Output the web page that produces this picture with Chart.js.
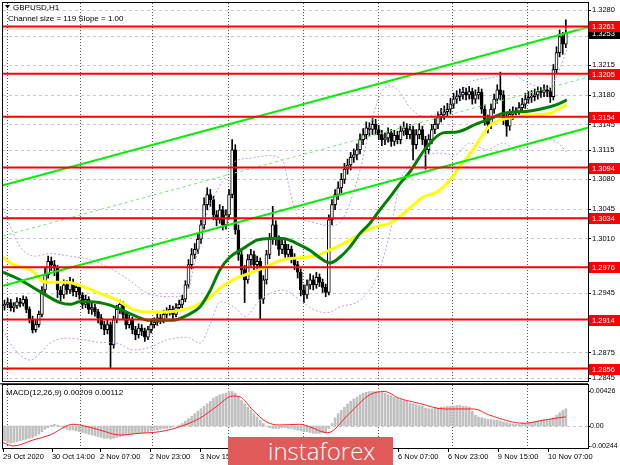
<!DOCTYPE html>
<html>
<head>
<meta charset="utf-8">
<title>GBPUSD H1</title>
<script src="https://cdn.jsdelivr.net/npm/chart.js@4.4.1/dist/chart.umd.min.js"></script>
<style>
  html, body { margin: 0; padding: 0; background: #fff; }
  #wrap { position: relative; width: 620px; height: 465px; overflow: hidden; }
  #main { position: absolute; left: 0; top: 0; }
  #macd { position: absolute; left: 0; top: 383px; }
  #logo { position: absolute; left: 228px; top: 437px; width: 165px; height: 28px; background: #e05a5a; overflow: hidden; }
  #logo span { position: absolute; left: 40px; top: -3px; color: #fff; font: 300 24px "Open Sans", sans-serif; }
</style>
</head>
<body>
<div id="wrap">
  <canvas id="main" width="620" height="383"></canvas>
  <canvas id="macd" width="620" height="82"></canvas>
  <div id="logo"><span>instaforex</span></div>
</div>
<script>
// GBPUSD H1 candles, bar index 0 = 29 Oct late evening
const opens = [
  1.2930, 1.2932, 1.2934, 1.2928, 1.2930, 1.2935, 1.2933, 1.2938, 1.2926, 1.2914,
  1.2902, 1.2908, 1.2920, 1.2949, 1.2967, 1.2983, 1.2979, 1.2975, 1.2949, 1.2943,
  1.2955, 1.2949, 1.2958, 1.2947, 1.2952, 1.2943, 1.2932, 1.2938, 1.2926, 1.2928,
  1.2923, 1.2916, 1.2908, 1.2902, 1.2908, 1.2884, 1.2914, 1.2926, 1.2932, 1.2920,
  1.2908, 1.2914, 1.2902, 1.2896, 1.2904, 1.2900, 1.2893, 1.2902, 1.2908, 1.2911,
  1.2916, 1.2914, 1.2920, 1.2923, 1.2926, 1.2920, 1.2928, 1.2932, 1.2938, 1.2955,
  1.2979, 1.2991, 1.2997, 1.3009, 1.3026, 1.3050, 1.3062, 1.3056, 1.3038, 1.3032,
  1.3044, 1.3026, 1.3038, 1.3062, 1.3115, 1.3020, 1.2991, 1.2973, 1.2961, 1.2985,
  1.2991, 1.2979, 1.2983, 1.2938, 1.2961, 1.2991, 1.3009, 1.3026, 1.3009, 1.2997,
  1.3003, 1.2991, 1.2997, 1.2987, 1.2979, 1.2970, 1.2949, 1.2943, 1.2955, 1.2961,
  1.2955, 1.2964, 1.2958, 1.2952, 1.2946, 1.3032, 1.3050, 1.3062, 1.3070, 1.3080,
  1.3092, 1.3097, 1.3106, 1.3109, 1.3115, 1.3127, 1.3133, 1.3141, 1.3139, 1.3145,
  1.3139, 1.3133, 1.3127, 1.3129, 1.3135, 1.3125, 1.3132, 1.3127, 1.3137, 1.3141,
  1.3133, 1.3139, 1.3121, 1.3133, 1.3139, 1.3127, 1.3115, 1.3127, 1.3139, 1.3145,
  1.3153, 1.3157, 1.3160, 1.3163, 1.3169, 1.3175, 1.3178, 1.3180, 1.3183, 1.3180,
  1.3184, 1.3175, 1.3180, 1.3183, 1.3163, 1.3151, 1.3145, 1.3163, 1.3175, 1.3186,
  1.3180, 1.3151, 1.3143, 1.3157, 1.3160, 1.3159, 1.3165, 1.3169, 1.3175, 1.3177,
  1.3178, 1.3180, 1.3184, 1.3183, 1.3186, 1.3184, 1.3178, 1.3210, 1.3230, 1.3249,
  1.3240
];
const highs = [
  1.2937, 1.2939, 1.2938, 1.2934, 1.2940, 1.2939, 1.2942, 1.2941, 1.2929, 1.2918,
  1.2913, 1.2924, 1.2953, 1.2975, 1.2989, 1.2988, 1.2984, 1.2978, 1.2953, 1.2961,
  1.2960, 1.2964, 1.2962, 1.2957, 1.2955, 1.2946, 1.2943, 1.2941, 1.2934, 1.2932,
  1.2926, 1.2920, 1.2912, 1.2913, 1.2911, 1.2918, 1.2931, 1.2937, 1.2935, 1.2923,
  1.2919, 1.2917, 1.2906, 1.2909, 1.2908, 1.2904, 1.2906, 1.2912, 1.2916, 1.2921,
  1.2920, 1.2925, 1.2928, 1.2931, 1.2930, 1.2933, 1.2937, 1.2943, 1.2960, 1.2985,
  1.2998, 1.3004, 1.3015, 1.3032, 1.3058, 1.3070, 1.3068, 1.3060, 1.3043, 1.3050,
  1.3048, 1.3044, 1.3068, 1.3127, 1.3121, 1.3026, 1.2997, 1.2978, 1.2991, 1.2997,
  1.2995, 1.2989, 1.2987, 1.2966, 1.2996, 1.3016, 1.3048, 1.3031, 1.3013, 1.3010,
  1.3008, 1.3003, 1.3001, 1.2992, 1.2983, 1.2974, 1.2955, 1.2961, 1.2968, 1.2966,
  1.2970, 1.2968, 1.2962, 1.2956, 1.3038, 1.3056, 1.3068, 1.3077, 1.3087, 1.3099,
  1.3104, 1.3112, 1.3116, 1.3122, 1.3134, 1.3140, 1.3148, 1.3147, 1.3152, 1.3151,
  1.3144, 1.3138, 1.3135, 1.3141, 1.3139, 1.3138, 1.3137, 1.3143, 1.3148, 1.3146,
  1.3145, 1.3143, 1.3139, 1.3146, 1.3143, 1.3131, 1.3133, 1.3145, 1.3152, 1.3160,
  1.3164, 1.3167, 1.3170, 1.3176, 1.3182, 1.3185, 1.3187, 1.3189, 1.3188, 1.3190,
  1.3188, 1.3186, 1.3189, 1.3187, 1.3168, 1.3156, 1.3169, 1.3181, 1.3192, 1.3207,
  1.3185, 1.3157, 1.3163, 1.3166, 1.3165, 1.3171, 1.3176, 1.3182, 1.3184, 1.3185,
  1.3187, 1.3190, 1.3189, 1.3192, 1.3191, 1.3188, 1.3216, 1.3237, 1.3257, 1.3254,
  1.3269
];
const lows = [
  1.2925, 1.2928, 1.2924, 1.2923, 1.2927, 1.2929, 1.2930, 1.2922, 1.2910, 1.2898,
  1.2899, 1.2905, 1.2917, 1.2945, 1.2963, 1.2972, 1.2966, 1.2940, 1.2936, 1.2939,
  1.2944, 1.2945, 1.2942, 1.2941, 1.2938, 1.2927, 1.2928, 1.2921, 1.2920, 1.2918,
  1.2910, 1.2903, 1.2896, 1.2897, 1.2857, 1.2880, 1.2910, 1.2921, 1.2915, 1.2903,
  1.2904, 1.2897, 1.2890, 1.2892, 1.2895, 1.2888, 1.2890, 1.2898, 1.2904, 1.2907,
  1.2909, 1.2910, 1.2916, 1.2919, 1.2915, 1.2917, 1.2924, 1.2928, 1.2935, 1.2951,
  1.2974, 1.2986, 1.2992, 1.3004, 1.3021, 1.3044, 1.3048, 1.3032, 1.3025, 1.3028,
  1.3020, 1.3021, 1.3033, 1.3058, 1.3015, 1.2984, 1.2966, 1.2934, 1.2957, 1.2978,
  1.2973, 1.2974, 1.2914, 1.2933, 1.2956, 1.2986, 1.3003, 1.3002, 1.2990, 1.2992,
  1.2985, 1.2986, 1.2981, 1.2973, 1.2963, 1.2942, 1.2934, 1.2939, 1.2950, 1.2949,
  1.2951, 1.2953, 1.2946, 1.2941, 1.2943, 1.3026, 1.3044, 1.3056, 1.3064, 1.3075,
  1.3086, 1.3091, 1.3100, 1.3103, 1.3110, 1.3121, 1.3128, 1.3132, 1.3133, 1.3133,
  1.3127, 1.3120, 1.3121, 1.3124, 1.3119, 1.3120, 1.3122, 1.3122, 1.3132, 1.3128,
  1.3128, 1.3103, 1.3116, 1.3128, 1.3121, 1.3092, 1.3110, 1.3122, 1.3134, 1.3140,
  1.3148, 1.3151, 1.3155, 1.3158, 1.3164, 1.3170, 1.3173, 1.3175, 1.3174, 1.3175,
  1.3169, 1.3170, 1.3175, 1.3158, 1.3144, 1.3135, 1.3140, 1.3158, 1.3170, 1.3174,
  1.3145, 1.3131, 1.3138, 1.3151, 1.3153, 1.3154, 1.3160, 1.3164, 1.3170, 1.3171,
  1.3173, 1.3175, 1.3177, 1.3178, 1.3178, 1.3171, 1.3174, 1.3205, 1.3225, 1.3228,
  1.3236
];
const closes = [
  1.2932, 1.2934, 1.2928, 1.2930, 1.2935, 1.2933, 1.2938, 1.2926, 1.2914, 1.2902,
  1.2908, 1.2920, 1.2949, 1.2967, 1.2983, 1.2979, 1.2975, 1.2949, 1.2943, 1.2955,
  1.2949, 1.2958, 1.2947, 1.2952, 1.2943, 1.2932, 1.2938, 1.2926, 1.2928, 1.2923,
  1.2916, 1.2908, 1.2902, 1.2908, 1.2884, 1.2914, 1.2926, 1.2932, 1.2920, 1.2908,
  1.2914, 1.2902, 1.2896, 1.2904, 1.2900, 1.2893, 1.2902, 1.2908, 1.2911, 1.2916,
  1.2914, 1.2920, 1.2923, 1.2926, 1.2920, 1.2928, 1.2932, 1.2938, 1.2955, 1.2979,
  1.2991, 1.2997, 1.3009, 1.3026, 1.3050, 1.3062, 1.3056, 1.3038, 1.3032, 1.3044,
  1.3026, 1.3038, 1.3062, 1.3115, 1.3020, 1.2991, 1.2973, 1.2961, 1.2985, 1.2991,
  1.2979, 1.2983, 1.2938, 1.2961, 1.2991, 1.3009, 1.3026, 1.3009, 1.2997, 1.3003,
  1.2991, 1.2997, 1.2987, 1.2979, 1.2970, 1.2949, 1.2943, 1.2955, 1.2961, 1.2955,
  1.2964, 1.2958, 1.2952, 1.2946, 1.3032, 1.3050, 1.3062, 1.3070, 1.3080, 1.3092,
  1.3097, 1.3106, 1.3109, 1.3115, 1.3127, 1.3133, 1.3141, 1.3139, 1.3145, 1.3139,
  1.3133, 1.3127, 1.3129, 1.3135, 1.3125, 1.3132, 1.3127, 1.3137, 1.3141, 1.3133,
  1.3139, 1.3121, 1.3133, 1.3139, 1.3127, 1.3115, 1.3127, 1.3139, 1.3145, 1.3153,
  1.3157, 1.3160, 1.3163, 1.3169, 1.3175, 1.3178, 1.3180, 1.3183, 1.3180, 1.3184,
  1.3175, 1.3180, 1.3183, 1.3163, 1.3151, 1.3145, 1.3163, 1.3175, 1.3186, 1.3180,
  1.3151, 1.3143, 1.3157, 1.3160, 1.3159, 1.3165, 1.3169, 1.3175, 1.3177, 1.3178,
  1.3180, 1.3184, 1.3183, 1.3186, 1.3184, 1.3178, 1.3210, 1.3230, 1.3249, 1.3240,
  1.3253
];

// support / resistance levels and axis ticks
const levels = [1.3261, 1.3205, 1.3154, 1.3094, 1.3034, 1.2976, 1.2914, 1.2856];
const priceTicks = [1.2845, 1.2875, 1.2945, 1.3010, 1.3045, 1.3080, 1.3115, 1.3145, 1.3180, 1.3215, 1.3250, 1.3280];
const timeTicks = [-0.45, 15.2, 30.6, 46.6, 62.7, 78.7, 94.4, 110.4, 126.2, 142.2, 158.2, 174.3];
const timeLabels = ['29 Oct 2020', '30 Oct 14:00', '2 Nov 07:00', '2 Nov 23:00', '3 Nov 15:00', '4 Nov 07:00',
  '4 Nov 23:00', '5 Nov 15:00', '6 Nov 07:00', '6 Nov 23:00', '9 Nov 15:00', '10 Nov 07:00'];
const daySeps = [0.8, 24.2, 47.3, 71.7, 95.7, 119.8, 143.5, 167.5];

// linear regression channel (ends)
const channelX = [-0.48, 187.1];
const channelUpper = [1.3073, 1.3260];
const channelMid = [1.3013, 1.3201];
const channelLower = [1.2954, 1.3141];

// moving averages
const slowX = [-0.48, 1.8, 9.1, 12.3, 15.5, 20, 25.2, 30.6, 36.1, 41.2, 46.6, 52.1, 56.3, 60.4, 62.7, 65.9, 69.1, 73.3, 78.7, 84.2,
  89.3, 94.7, 100.2, 105.3, 110.8, 116.2, 119.4, 123.6, 130, 134.2, 138.7, 142.8, 146, 150.2, 153.4, 155.7, 162.1, 168.5, 174.9, 178.1, 180.3];
const slowY = [1.2988, 1.2981, 1.2971, 1.2959, 1.2958, 1.2958, 1.2953, 1.2945, 1.2937, 1.2926, 1.2923, 1.2923, 1.2925, 1.2929, 1.2933, 1.2940, 1.2951, 1.2961, 1.2969, 1.2977,
  1.2985, 1.2987, 1.2990, 1.2998, 1.3008, 1.3020, 1.3024, 1.3028, 1.3046, 1.3059, 1.3065, 1.3079, 1.3095, 1.3115, 1.3133, 1.3144, 1.3153, 1.3156, 1.3158, 1.3164, 1.3168];
const fastX = [-0.48, 5, 11.4, 17.8, 21, 24.2, 27.4, 33.8, 40.2, 46.6, 54, 58.5, 62.7, 65.9, 69.1, 72.3, 76.5, 81, 85.1, 89.3, 93.8,
  97.9, 101.2, 104.4, 107.6, 110.8, 114, 117.2, 120.4, 123.6, 126.8, 130, 135.5, 140.6, 145.1, 151.5, 154.7, 159.8, 168.5, 174.9, 178.1, 180.3];
const fastY = [1.2970, 1.2961, 1.2947, 1.2934, 1.2932, 1.2935, 1.2935, 1.2931, 1.2921, 1.2913, 1.2913, 1.2919, 1.2929, 1.2948, 1.2973, 1.2988, 1.2998, 1.3008, 1.3010, 1.3010, 1.3004,
  1.2996, 1.2987, 1.2981, 1.2988, 1.3000, 1.3016, 1.3028, 1.3044, 1.3059, 1.3075, 1.3089, 1.3119, 1.3135, 1.3136, 1.3146, 1.3150, 1.3158, 1.3161, 1.3166, 1.3170, 1.3174];

// envelope bands (dotted violet)
const bandUpX = [-0.48, 2.4, 5, 9.8, 14.6, 21, 27.4, 33.8, 40.2, 46.6, 54.7, 58.5, 61.1, 64.3, 67.5, 70.7, 73.9, 78.7, 85.1, 89.3,
  91.5, 93.8, 97.9, 105.3, 109.2, 114, 117.8, 120.4, 123.6, 126.8, 130, 134.8, 139.6, 144.4, 149.2, 155.7, 162.1, 167.5, 173.3, 176.5, 180.3];
const bandUpY = [1.3046, 1.3020, 1.3000, 1.2989, 1.2992, 1.2989, 1.2985, 1.2975, 1.2960, 1.2944, 1.2941, 1.2947, 1.2982, 1.3032, 1.3062, 1.3082, 1.3101, 1.3105, 1.3108, 1.3101,
  1.3067, 1.3038, 1.3030, 1.3025, 1.3038, 1.3091, 1.3150, 1.3180, 1.3191, 1.3183, 1.3165, 1.3154, 1.3160, 1.3174, 1.3195, 1.3200, 1.3205, 1.3195, 1.3188, 1.3198, 1.3233];
const bandLowX = [-0.48, 1.8, 5, 8.2, 11.4, 14.6, 20, 25.2, 30.6, 36.1, 41.2, 46.6, 52.1, 58.5, 62.7, 65.9, 69.1, 73.9, 77.1, 81.9,
  89.3, 94.7, 99.6, 103.4, 107.6, 114, 119.4, 123.6, 126.8, 130, 134.8, 139.6, 144.4, 149.2, 154.7, 159.8, 164.3, 170.1, 174.9, 178.1, 180.3];
const bandLowY = [1.2902, 1.2886, 1.2872, 1.2866, 1.2874, 1.2886, 1.2892, 1.2890, 1.2887, 1.2886, 1.2878, 1.2881, 1.2890, 1.2893, 1.2886, 1.2908, 1.2935, 1.2928, 1.2918, 1.2937,
  1.2949, 1.2937, 1.2925, 1.2922, 1.2929, 1.2937, 1.2964, 1.3017, 1.3076, 1.3097, 1.3109, 1.3111, 1.3109, 1.3123, 1.3115, 1.3123, 1.3115, 1.3123, 1.3127, 1.3121, 1.3112];

// MACD(12,26,9)
const macdHist = [
  -0.0018, -0.0020, -0.0021, -0.0020, -0.0019, -0.0018, -0.0017, -0.0016, -0.0015, -0.0014,
  -0.0012, -0.0010, -0.0007, -0.0004, -0.0002, 0.0001, 0.0002, 0.0001, -0.0001, -0.0003,
  -0.0004, -0.0005, -0.0005, -0.0006, -0.0007, -0.0008, -0.0009, -0.0010, -0.0011, -0.0012,
  -0.0013, -0.0014, -0.0015, -0.0015, -0.0016, -0.0015, -0.0014, -0.0013, -0.0012, -0.0011,
  -0.0010, -0.0010, -0.0009, -0.0009, -0.0008, -0.0008, -0.0007, -0.0006, -0.0005, -0.0005,
  -0.0004, -0.0003, -0.0003, -0.0002, -0.0001, 0.0000, 0.0001, 0.0003, 0.0006, 0.0009,
  0.0012, 0.0015, 0.0018, 0.0021, 0.0024, 0.0027, 0.0030, 0.0034, 0.0036, 0.0038,
  0.0039, 0.0040, 0.0042, 0.0042, 0.0040, 0.0036, 0.0031, 0.0027, 0.0023, 0.0019,
  0.0015, 0.0011, 0.0007, 0.0003, 0.0000, -0.0002, -0.0003, -0.0003, -0.0003, -0.0002,
  -0.0002, -0.0003, -0.0003, -0.0004, -0.0005, -0.0006, -0.0007, -0.0007, -0.0008, -0.0009,
  -0.0009, -0.0009, -0.0008, -0.0008, -0.0003, 0.0003, 0.0010, 0.0015, 0.0019, 0.0023,
  0.0027, 0.0030, 0.0033, 0.0035, 0.0038, 0.0040, 0.0041, 0.0042, 0.0042, 0.0042,
  0.0042, 0.0041, 0.0040, 0.0038, 0.0037, 0.0035, 0.0034, 0.0032, 0.0031, 0.0030,
  0.0028, 0.0027, 0.0026, 0.0025, 0.0024, 0.0022, 0.0021, 0.0021, 0.0022, 0.0022,
  0.0023, 0.0023, 0.0024, 0.0024, 0.0024, 0.0025, 0.0025, 0.0024, 0.0024, 0.0023,
  0.0018, 0.0013, 0.0011, 0.0010, 0.0009, 0.0008, 0.0008, 0.0007, 0.0007, 0.0006,
  0.0005, 0.0004, 0.0003, 0.0002, 0.0002, 0.0002, 0.0003, 0.0003, 0.0004, 0.0004,
  0.0005, 0.0006, 0.0006, 0.0007, 0.0007, 0.0008, 0.0010, 0.0013, 0.0016, 0.0019,
  0.0021
];
const signalX = [-0.5, 2.8, 9.2, 14.6, 22, 24.2, 30.6, 37, 43.4, 49.8, 56.2, 62.6, 67.9, 73.2, 75.4, 79.6,
  83.9, 88.2, 94.6, 97.8, 103.6, 110.6, 117, 121.8, 126.6, 133, 141, 150.6, 155.4, 166.6, 173, 180];
const signalY = [-0.00203, -0.00243, -0.00170, -0.00110, 0.00021, 0.00012, -0.00049, -0.00110, -0.00089, -0.00069, -0.00009, 0.00094, 0.00235, 0.00365, 0.00357, 0.00195,
  0.00052, 0.00012, 0.00021, -0.00009, -0.00082, 0.00155, 0.00377, 0.00420, 0.00337, 0.00276, 0.00207, 0.00207, 0.00134, 0.00033, 0.00073, 0.00112];
const macdTicks = [-0.00244, 0, 0.00426];

const FONT = '"Liberation Sans", Arial, sans-serif';
const xMin = -0.48, xMax = 187.1;

const pts = (xs, ys) => xs.map((v, k) => ({ x: v, y: ys[k] }));
const idx = closes.map((_, i) => i);

function hline(ctx, x1, y, x2) { ctx.beginPath(); ctx.moveTo(x1, y); ctx.lineTo(x2, y); ctx.stroke(); }
function vline(ctx, x, y1, y2) { ctx.beginPath(); ctx.moveTo(x, y1); ctx.lineTo(x, y2); ctx.stroke(); }

// keep Chart.js from padding the plot area for the edge tick labels
function noPad(s) { s.paddingTop = 0; s.paddingBottom = 0; s.paddingLeft = 0; s.paddingRight = 0; }

function priceBox(ctx, left, y, color, text) {
  ctx.fillStyle = color;
  ctx.fillRect(left, Math.round(y) - 5, 31, 11);
  ctx.fillStyle = '#fff';
  ctx.font = '7.5px ' + FONT;
  ctx.textBaseline = 'middle';
  ctx.textAlign = 'left';
  ctx.fillText(text, left + 3, Math.round(y) + 0.5);
}

const mainDecor = {
  id: 'mainDecor',
  beforeDatasetsDraw(chart) {
    const { ctx, chartArea: a } = chart;
    const { x, y } = chart.scales;
    ctx.save();
    ctx.lineWidth = 1;
    ctx.strokeStyle = '#c8c8c8';
    ctx.setLineDash([3, 3]);
    priceTicks.forEach(v => hline(ctx, a.left, Math.round(y.getPixelForValue(v)) + 0.5, a.right));
    ctx.strokeStyle = '#555';
    ctx.setLineDash([1, 2]);
    daySeps.forEach(v => vline(ctx, Math.round(x.getPixelForValue(v)) + 0.5, a.top, a.bottom));
    ctx.restore();
  },
  afterDraw(chart) {
    const { ctx, chartArea: a } = chart;
    const y = chart.scales.y;
    ctx.save();
    ctx.strokeStyle = '#000';
    ctx.lineWidth = 1;
    ctx.strokeRect(a.left - 0.5, a.top - 0.5, a.right - a.left + 1, a.bottom - a.top + 1);
    priceTicks.forEach(v => hline(ctx, a.right, Math.round(y.getPixelForValue(v)) + 0.5, a.right + 3));
    const last = closes[closes.length - 1];
    priceBox(ctx, a.right + 1, y.getPixelForValue(last), '#000', last.toFixed(4));
    levels.forEach(v => priceBox(ctx, a.right + 1, y.getPixelForValue(v), '#ff0000', v.toFixed(4)));
    ctx.fillStyle = '#000';
    ctx.beginPath(); ctx.moveTo(5, 5); ctx.lineTo(10, 5); ctx.lineTo(7.5, 8.5); ctx.closePath(); ctx.fill();
    ctx.font = '8px ' + FONT;
    ctx.textBaseline = 'alphabetic';
    ctx.fillText('GBPUSD,H1', 13, 10);
    ctx.fillText('Channel size = 119 Slope = 1.00', 8, 21);
    ctx.restore();
  }
};

const lineDs = (data, color, width, extra) => Object.assign({
  type: 'line', data, borderColor: color, borderWidth: width, pointRadius: 0, fill: false, tension: 0
}, extra || {});

new Chart(document.getElementById('main'), {
  type: 'bar',
  data: {
    datasets: [
      { type: 'bar', data: idx.map(i => ({ x: i, y: [lows[i], highs[i]] })), backgroundColor: '#000',
        barThickness: 1, grouped: false, order: 20 },
      { type: 'bar', data: idx.map(i => ({ x: i, y: [Math.min(opens[i], closes[i]), Math.max(opens[i], closes[i])] })),
        backgroundColor: idx.map(i => closes[i] > opens[i] ? '#fff' : '#000'), borderColor: '#000', borderWidth: 1,
        borderSkipped: false, barThickness: 3, minBarLength: 1, grouped: false, order: 19 },
      lineDs(pts(bandUpX, bandUpY), '#c79be6', 1, { borderDash: [2, 2], tension: 0.4, cubicInterpolationMode: 'monotone', order: 10 }),
      lineDs(pts(bandLowX, bandLowY), '#c79be6', 1, { borderDash: [2, 2], tension: 0.4, cubicInterpolationMode: 'monotone', order: 10 }),
      lineDs(pts(slowX, slowY), '#ffff00', 3, { cubicInterpolationMode: 'monotone', order: 8 }),
      lineDs(pts(fastX, fastY), '#008000', 3, { cubicInterpolationMode: 'monotone', order: 7 }),
      lineDs(pts(channelX, channelMid), '#66ee66', 1, { borderDash: [3, 3], order: 5 }),
      lineDs(pts(channelX, channelUpper), '#00ee00', 2, { order: 4 }),
      lineDs(pts(channelX, channelLower), '#00ee00', 2, { order: 4 }),
      lineDs(pts(channelX, [1.3258, 1.3258]), '#f6b9a0', 1, { order: 3 }),
      ...levels.map(v => lineDs(pts(channelX, [v, v]), '#ff0000', 2, { order: 1 }))
    ]
  },
  options: {
    responsive: false,
    animation: false,
    events: [],
    layout: { padding: { left: 3, right: 0, top: 3, bottom: 2 } },
    plugins: { legend: { display: false }, tooltip: { enabled: false } },
    scales: {
      x: { type: 'linear', min: xMin, max: xMax, offset: false, display: false },
      y: {
        type: 'linear', position: 'right', min: 1.28412, max: 1.32888,
        grid: { display: false, drawTicks: false }, border: { display: false },
        afterBuildTicks: s => { s.ticks = priceTicks.map(v => ({ value: v })); },
        afterFit: s => { s.width = 32; noPad(s); },
        ticks: { font: { family: FONT, size: 7.5 }, color: '#000', padding: 4, autoSkip: false,
          callback: v => v.toFixed(4) }
      }
    }
  },
  plugins: [mainDecor]
});

const macdDecor = {
  id: 'macdDecor',
  beforeDatasetsDraw(chart) {
    const { ctx, chartArea: a } = chart;
    const { x, y } = chart.scales;
    ctx.save();
    ctx.lineWidth = 1;
    ctx.strokeStyle = '#c8c8c8';
    ctx.setLineDash([3, 3]);
    hline(ctx, a.left, Math.round(y.getPixelForValue(0)) + 0.5, a.right);
    ctx.strokeStyle = '#555';
    ctx.setLineDash([1, 2]);
    daySeps.forEach(v => vline(ctx, Math.round(x.getPixelForValue(v)) + 0.5, a.top, a.bottom));
    ctx.restore();
  },
  afterDraw(chart) {
    const { ctx, chartArea: a } = chart;
    const { x, y } = chart.scales;
    ctx.save();
    ctx.fillStyle = '#444';
    ctx.fillRect(0, 0, a.right, 1.5);
    ctx.strokeStyle = '#000';
    ctx.lineWidth = 1;
    ctx.strokeRect(a.left - 0.5, a.top - 0.5, a.right - a.left + 1, a.bottom - a.top + 1);
    timeTicks.forEach(v => vline(ctx, Math.round(x.getPixelForValue(v)) + 0.5, a.bottom, a.bottom + 4));
    macdTicks.forEach(v => hline(ctx, a.right, Math.round(y.getPixelForValue(v)) + 0.5, a.right + 2));
    ctx.fillStyle = '#000';
    ctx.font = '8px ' + FONT;
    ctx.fillText('MACD(12,26,9) 0.00209 0.00112', 6, 12);
    ctx.restore();
  }
};

new Chart(document.getElementById('macd'), {
  type: 'bar',
  data: {
    datasets: [
      { type: 'bar', data: idx.map(i => ({ x: i, y: macdHist[i] })), backgroundColor: '#c0c0c0',
        barThickness: 2, grouped: false, order: 5 },
      lineDs(pts(signalX, signalY), '#ff2020', 1, { tension: 0.4, cubicInterpolationMode: 'monotone', order: 1 })
    ]
  },
  options: {
    responsive: false,
    animation: false,
    events: [],
    layout: { padding: { left: 3, right: 0, top: 2, bottom: 0 } },
    plugins: { legend: { display: false }, tooltip: { enabled: false } },
    scales: {
      x: {
        type: 'linear', min: xMin, max: xMax, offset: false, position: 'bottom',
        grid: { display: false, drawTicks: false }, border: { display: false },
        afterBuildTicks: s => { s.ticks = timeTicks.map(v => ({ value: v })); },
        afterFit: s => { s.height = 17; noPad(s); },
        ticks: { font: { family: FONT, size: 7.5 }, color: '#000', padding: 4, autoSkip: false,
          maxRotation: 0, align: 'start', callback: (v, i) => timeLabels[i] }
      },
      y: {
        type: 'linear', position: 'right', min: -0.00268, max: 0.00499,
        grid: { display: false, drawTicks: false }, border: { display: false },
        afterBuildTicks: s => { s.ticks = macdTicks.map(v => ({ value: v })); },
        afterFit: s => { s.width = 32; noPad(s); },
        ticks: { font: { family: FONT, size: 7 }, color: '#000', padding: 2, autoSkip: false,
          callback: v => v === 0 ? '0.00' : v.toFixed(5) }
      }
    }
  },
  plugins: [macdDecor]
});
</script>
</body>
</html>
